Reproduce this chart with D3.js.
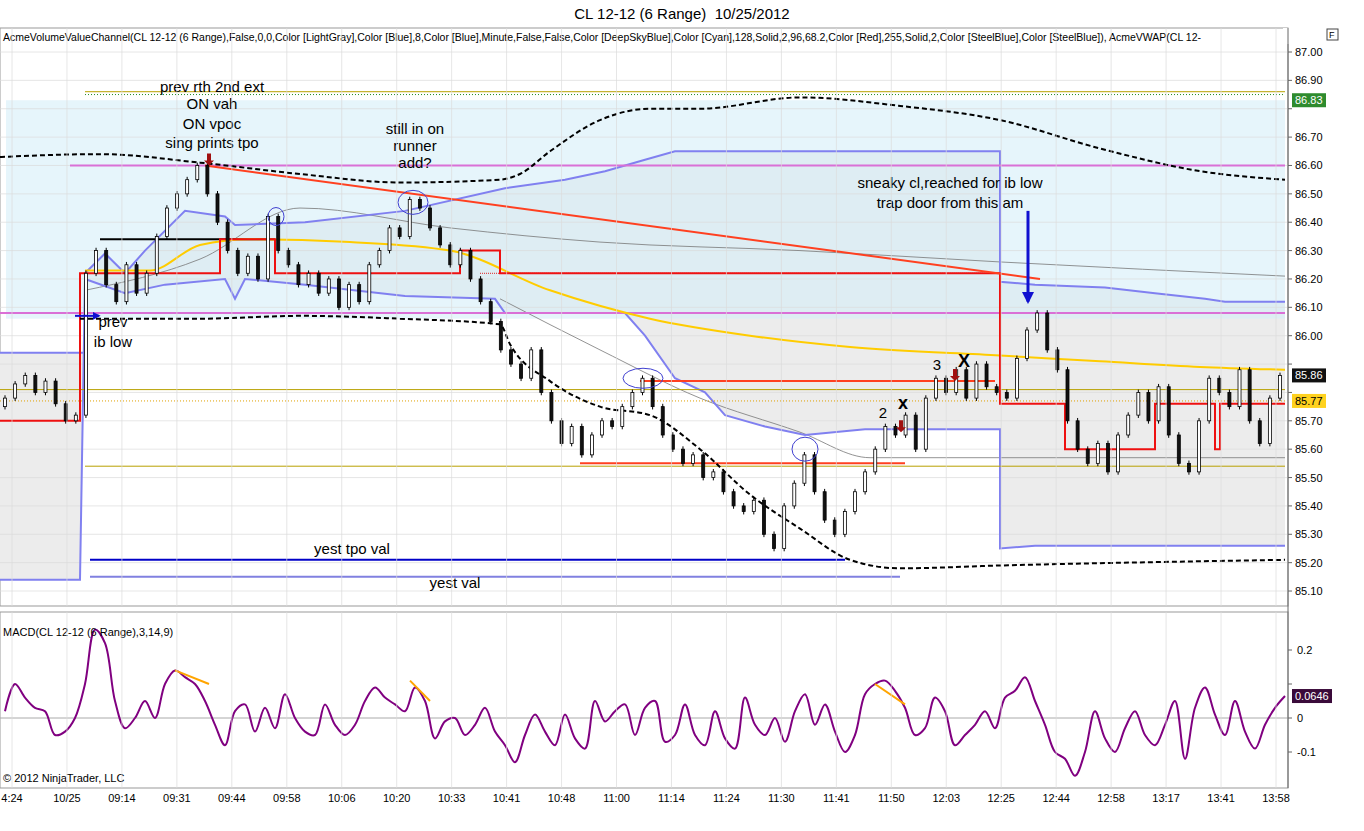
<!DOCTYPE html>
<html><head><meta charset="utf-8">
<script src="https://cdn.jsdelivr.net/npm/d3@7"></script>
<style>body{margin:0;background:#fff;font-family:Arial,"Liberation Sans",sans-serif}</style>
</head><body><div id="chart"></div>
<script>
// closes of the range bars, one per slot (slot = 10 px)
var closes = [85.78,85.83,85.86,85.80,85.84,85.76,85.70,85.72,
  86.22,86.30,86.18,86.12,86.25,86.15,86.22,
  86.35,86.45,86.50,86.55,86.60,
  86.50,86.40,86.30,86.22,86.28,86.20,
  86.42,86.30,
  86.25,86.18,86.22,86.15,86.20,86.10,86.18,86.12,
  86.25,86.30,86.38,86.35,86.48,86.45,
  86.38,86.32,86.25,86.30,86.20,
  86.12,86.05,85.95,85.90,85.85,85.95,85.80,
  85.70,85.62,85.68,85.58,
  85.65,85.70,85.68,85.75,85.80,85.85,
  85.75,85.65,85.60,85.55,85.58,85.50,
  85.52,85.45,85.40,85.38,85.42,85.30,85.25,
  85.40,85.48,85.58,85.45,85.35,85.30,85.38,
  85.45,85.52,85.60,85.68,85.65,85.72,85.60,
  85.78,85.85,85.80,85.88,85.78,85.90,85.82,85.80,
  85.78,85.92,86.02,86.08,85.95,85.88,85.70,
  85.60,85.55,85.62,85.52,85.65,85.72,85.80,85.70,85.82,
  85.65,85.55,85.52,85.70,85.85,85.80,85.75,85.88,
  85.70,85.62,85.78,85.86];
var macd = [0.02,0.1,0.06,0.03,0.02,-0.05,-0.04,0.0,0.1,0.26,0.22,0.05,-0.03,0.0,0.05,0.0,0.1,0.14,0.12,0.1,
  0.05,-0.02,-0.08,0.02,0.04,-0.04,0.03,-0.03,0.07,0.0,-0.04,-0.05,0.04,-0.02,-0.05,-0.02,0.05,0.09,0.06,0.04,
  0.02,0.09,0.05,-0.06,-0.01,0.0,-0.05,-0.02,0.03,-0.04,-0.08,-0.13,-0.05,0.01,-0.04,-0.08,0.01,-0.06,-0.09,0.05,
  -0.01,0.02,0.04,-0.05,0.03,0.05,-0.07,-0.05,0.04,-0.05,-0.08,0.02,-0.06,-0.09,0.06,-0.02,-0.05,0.0,-0.07,0.02,
  0.07,-0.02,0.04,-0.04,-0.1,-0.05,0.07,0.1,0.11,0.08,0.03,-0.05,-0.03,0.06,0.02,-0.08,-0.05,-0.02,0.02,-0.03,
  0.06,0.08,0.12,0.05,-0.02,-0.1,-0.12,-0.17,-0.1,0.02,-0.06,-0.1,-0.03,0.02,-0.05,-0.08,-0.02,0.05,-0.12,0.03,
  0.09,0.01,-0.05,0.05,-0.04,-0.09,-0.02,0.03,0.0646];
var timeLabels = ["4:24","10/25","09:14","09:31","09:44","09:58","10:06","10:20","10:33","10:41","10:48","11:00",
  "11:14","11:24","11:30","11:41","11:50","12:03","12:25","12:44","12:58","13:17","13:41","13:58"];
var priceTicks = d3.range(85.1, 87.001, 0.1);
var macdTicks = [0.2, 0.1, 0, -0.1];
// overlay lines as [slot, price]
var upperDash = [[-0.5,86.63],[9.5,86.64],[19.5,86.61],[29.5,86.57],[39.5,86.54],[49.5,86.55],[51.5,86.57],[54.5,86.65],[59.5,86.76],[64.5,86.80],[69.5,86.80],[79.5,86.84],[89.5,86.81],[99.5,86.76],[109.5,86.66],[119.5,86.58],[128,86.55]];
var lowerDash = [[7.5,86.06],[19.5,86.06],[29.5,86.07],[39.5,86.06],[49.5,86.04],[50.5,85.97],[54.5,85.84],[59.5,85.75],[64.5,85.72],[69.5,85.60],[74.5,85.44],[79.5,85.32],[84.5,85.21],[89.5,85.18],[99.5,85.19],[128,85.21]];
var vwap = [[8,86.23],[14.5,86.23],[19.5,86.32],[24.5,86.34],[34.5,86.33],[44.5,86.30],[54.5,86.16],[64.5,86.06],[74.5,86.00],[84.5,85.96],[99.5,85.93],[109.5,85.91],[119.5,85.89],[128,85.88]];
var grayA = [[8,86.16],[19.5,86.27],[29.5,86.45],[44.5,86.38],[59.5,86.33],[79.5,86.30],[99.5,86.26],[128,86.21]];
var grayB = [[49.5,86.13],[59.5,85.95],[69.5,85.78],[79.5,85.66],[86.5,85.57],[99.5,85.57],[128,85.57]];
var vaHigh = [[-0.5,85.94],[8,85.94],[8,86.22],[10,86.29],[12,86.22],[14,86.30],[18,86.44],[22,86.42],[23,86.39],[30,86.40],[40,86.44],[50,86.52],[56,86.55],[60,86.58],[64,86.62],[67,86.65],[99.5,86.65],[99.5,86.19],[103,86.18],[110,86.17],[115,86.15],[120,86.13],[122,86.12],[128,86.12]];
var vaLow = [[-0.5,85.14],[7.5,85.14],[8,86.20],[12,86.15],[16,86.18],[22,86.20],[23,86.13],[24,86.20],[30,86.18],[40,86.14],[49,86.13],[50,86.08],[62,86.08],[64,86.00],[67,85.85],[70,85.80],[72,85.72],[76,85.68],[80,85.65],[86,85.67],[99.5,85.67],[99.5,85.25],[103,85.26],[128,85.26]];
var pocSteps = [[-0.5,85.70],[7.5,85.70],[7.5,86.22],[21.5,86.22],[21.5,86.34],[27,86.34],[27,86.22],[45.5,86.22],[45.5,86.30],[49.5,86.30],[49.5,86.22],[99.5,86.22],[99.5,85.76],[106,85.76],[106,85.60],[115,85.60],[115,85.76],[121,85.76],[121,85.60],[121.5,85.60],[121.5,85.76],[128,85.76]];
var hLines = [
  {a:8,b:128,p:86.86,c:"#b8a000",w:1},{a:8,b:128,p:86.85,c:"#228b22",w:1,d:"1,2"},
  {a:6.5,b:128,p:86.60,c:"#da70d6",w:2},{a:-0.5,b:128,p:86.08,c:"#da70d6",w:2},
  {a:-0.5,b:128,p:85.81,c:"#b8a000",w:1},{a:-0.5,b:128,p:85.77,c:"#e0a000",w:1,d:"1,2"},
  {a:8,b:128,p:85.54,c:"#b8a000",w:1},
  {a:47.5,b:99.5,p:86.22,c:"#e02020",w:1,d:"1,1"},
  {a:63.5,b:99,p:85.84,c:"#ff4020",w:2},{a:57.5,b:90,p:85.55,c:"#ff4020",w:2},
  {a:9.5,b:27,p:86.34,c:"#000",w:2},
  {a:8.5,b:84,p:85.21,c:"#0000c8",w:2},{a:8.5,b:89.5,p:85.15,c:"#8080e0",w:2}
];
var annotations = [
  {s:20.7,p:86.86,t:"prev rth 2nd ext"},{s:20.7,p:86.80,t:"ON vah"},{s:20.7,p:86.73,t:"ON vpoc"},{s:20.7,p:86.66,t:"sing prints tpo"},
  {s:41,p:86.71,t:"still in on"},{s:41,p:86.65,t:"runner"},{s:41,p:86.59,t:"add?"},
  {s:94.5,p:86.52,t:"sneaky cl,reached for ib low"},{s:94.5,p:86.45,t:"trap door from this am"},
  {s:10.8,p:86.03,t:"prev"},{s:10.8,p:85.96,t:"ib low"},
  {s:34.7,p:85.23,t:"yest tpo val"},{s:45,p:85.11,t:"yest val"},
  {s:87.8,p:85.71,t:"2"},{s:93.2,p:85.88,t:"3"}
];
var crosses = [{s:89.8,p:85.74,t:"x"},{s:95.9,p:85.89,t:"X"}];
var ellipses = [{s:27.1,p:86.42,rx:8,ry:9},{s:40.8,p:86.47,rx:15,ry:12},{s:63.8,p:85.85,rx:20,ry:10},{s:80,p:85.60,rx:13,ry:12}];

var W = 1364, H = 831, right = 1288;
var x = d3.scaleLinear().domain([-0.5, 128]).range([0, 1285]);
var y = d3.scaleLinear().domain([85.03, 87.0]).range([(87-85.03)*283.7+52, 52]);
var ym = d3.scaleLinear().domain([-0.2, 0.2]).range([786, 650]);

var svg = d3.select("#chart").append("svg").attr("width", W).attr("height", H);
svg.append("text").attr("x", 682).attr("y", 19).attr("text-anchor", "middle").attr("font-size", 15).attr("xml:space", "preserve").text("CL 12-12 (6 Range)  10/25/2012");

var main = svg.append("g");
main.append("rect").attr("x", 0).attr("y", 28).attr("width", right).attr("height", 578).attr("fill", "#fff").attr("stroke", "#999");
var sub = svg.append("g");
sub.append("rect").attr("x", 0).attr("y", 612).attr("width", right).attr("height", 176).attr("fill", "#fff").attr("stroke", "#999");

var line = d3.line().x(function(d){return x(d[0]);}).y(function(d){return y(d[1]);});
var lineC = d3.line().x(function(d){return x(d[0]);}).y(function(d){return y(d[1]);}).curve(d3.curveMonotoneX);

// background fills
main.append("path").datum(vaHigh.concat(vaLow.slice().reverse())).attr("fill", "#ececec").attr("d", function(d){return line(d) + "Z";});
main.append("rect").attr("x", x(-0.5)+6).attr("width", x(128)-x(-0.5)-6).attr("y", y(86.83)).attr("height", y(86.06)-y(86.83)).attr("fill", "#d6eff8").attr("opacity", 0.6);

// grid
var tx = d3.scaleLinear().domain([0, timeLabels.length - 1]).range([12, 1276]);
timeLabels.forEach(function(t, i) {
  [[28, 606], [612, 788]].forEach(function(r) {
    svg.append("line").attr("x1", tx(i)).attr("x2", tx(i)).attr("y1", r[0]).attr("y2", r[1]).attr("stroke", "#dcdcdc").attr("stroke-opacity", 0.7);
  });
  svg.append("text").attr("x", tx(i)).attr("y", 802).attr("text-anchor", "middle").attr("font-size", 11).text(t);
});
priceTicks.forEach(function(p) {
  main.append("line").attr("x1", 0).attr("x2", right).attr("y1", y(p)).attr("y2", y(p)).attr("stroke", "#dcdcdc").attr("stroke-opacity", 0.7);
});

main.append("path").datum(grayA).attr("d", lineC).attr("fill", "none").attr("stroke", "#777").attr("stroke-width", 0.8);
main.append("path").datum(grayB).attr("d", lineC).attr("fill", "none").attr("stroke", "#777").attr("stroke-width", 0.8);
main.append("path").datum(vaHigh).attr("d", line).attr("fill", "none").attr("stroke", "#8080f0").attr("stroke-width", 2);
main.append("path").datum(vaLow).attr("d", line).attr("fill", "none").attr("stroke", "#8080f0").attr("stroke-width", 2);
hLines.forEach(function(h) {
  main.append("line").attr("x1", x(h.a)).attr("x2", x(h.b)).attr("y1", y(h.p)).attr("y2", y(h.p))
    .attr("stroke", h.c).attr("stroke-width", h.w).attr("stroke-dasharray", h.d || null);
});
main.append("path").datum(vwap).attr("d", lineC).attr("fill", "none").attr("stroke", "#ffcc00").attr("stroke-width", 2);
main.append("path").datum(pocSteps).attr("d", line).attr("fill", "none").attr("stroke", "#ee1010").attr("stroke-width", 2);
main.append("line").attr("x1", x(20)).attr("y1", y(86.60)).attr("x2", x(103.5)).attr("y2", y(86.20)).attr("stroke", "#ff4020").attr("stroke-width", 2);
main.append("path").datum(upperDash).attr("d", lineC).attr("fill", "none").attr("stroke", "#000").attr("stroke-width", 2).attr("stroke-dasharray", "5,3");
main.append("path").datum(lowerDash).attr("d", lineC).attr("fill", "none").attr("stroke", "#000").attr("stroke-width", 2).attr("stroke-dasharray", "5,3");

// candles
var bars = closes.map(function(c, i) {
  var o = i ? closes[i-1] : c - 0.03;
  return {i: i, o: o, c: c, h: Math.max(o, c) + 0.01, l: Math.min(o, c) - 0.01};
});
var bx = d3.scaleLinear().domain([0, closes.length - 1]).range([x(0), x(127.5)]);
var cg = main.selectAll("g.bar").data(bars).enter().append("g").attr("class", "bar");
cg.append("line").attr("x1", function(d){return bx(d.i);}).attr("x2", function(d){return bx(d.i);})
  .attr("y1", function(d){return y(d.h);}).attr("y2", function(d){return y(d.l);}).attr("stroke", "#000");
cg.append("rect").attr("x", function(d){return bx(d.i)-1.5;}).attr("width", 3)
  .attr("y", function(d){return y(Math.max(d.o, d.c));}).attr("height", function(d){return Math.max(1, Math.abs(y(d.o)-y(d.c)));})
  .attr("fill", function(d){return d.c >= d.o ? "#fff" : "#111";}).attr("stroke", "#000").attr("stroke-width", 0.8);

// ellipses, arrows, annotations
ellipses.forEach(function(e) {
  main.append("ellipse").attr("cx", x(e.s)).attr("cy", y(e.p)).attr("rx", e.rx).attr("ry", e.ry).attr("fill", "none").attr("stroke", "#4040d0");
});
svg.append("defs").append("marker").attr("id", "ah").attr("viewBox", "0 0 10 10").attr("refX", 8).attr("refY", 5)
  .attr("markerWidth", 4).attr("markerHeight", 4).attr("orient", "auto")
  .append("path").attr("d", "M0,0L10,5L0,10z").attr("fill", "#1010d0");
main.append("line").attr("x1", x(102.3)).attr("x2", x(102.3)).attr("y1", y(86.44)).attr("y2", y(86.12))
  .attr("stroke", "#1010d0").attr("stroke-width", 3).attr("marker-end", "url(#ah)");
main.append("line").attr("x1", x(7)).attr("x2", x(9.4)).attr("y1", y(86.07)).attr("y2", y(86.07))
  .attr("stroke", "#1010d0").attr("stroke-width", 2).attr("marker-end", "url(#ah)");
[[20.4,86.60],[89.6,85.66],[95,85.84]].forEach(function(a) {
  main.append("path").attr("transform", "translate(" + x(a[0]) + "," + y(a[1]) + ")")
    .attr("d", "M-2,-12L2,-12L2,-5L5,-5L0,0L-5,-5L-2,-5z").attr("fill", "#a01010");
});
annotations.forEach(function(a) {
  main.append("text").attr("x", x(a.s)).attr("y", y(a.p)).attr("text-anchor", "middle").attr("font-size", 15).text(a.t);
});
crosses.forEach(function(a) {
  main.append("text").attr("x", x(a.s)).attr("y", y(a.p)).attr("text-anchor", "middle").attr("font-size", 18).attr("font-weight", "bold").text(a.t);
});
main.append("text").attr("x", 3).attr("y", 41).attr("font-size", 10.5)
  .text("AcmeVolumeValueChannel(CL 12-12 (6 Range),False,0,0,Color [LightGray],Color [Blue],8,Color [Blue],Minute,False,False,Color [DeepSkyBlue],Color [Cyan],128,Solid,2,96,68.2,Color [Red],255,Solid,2,Color [SteelBlue],Color [SteelBlue]), AcmeVWAP(CL 12-");
main.append("rect").attr("x", 1283).attr("y", 28).attr("width", 81).attr("height", 16).attr("fill", "#fff");

// price axis
var tags = [{p:86.83,bg:"#2e8b2e",fg:"#fff"},{p:closes[closes.length-1],bg:"#111",fg:"#fff"},{p:85.77,bg:"#ffd21f",fg:"#000"}];
svg.append("line").attr("x1", right).attr("x2", right).attr("y1", 28).attr("y2", 788).attr("stroke", "#666");
priceTicks.forEach(function(p) {
  svg.append("line").attr("x1", right).attr("x2", right+4).attr("y1", y(p)).attr("y2", y(p)).attr("stroke", "#666");
  var hidden = tags.some(function(t){ return Math.abs(y(t.p) - y(p)) < 12; });
  if (!hidden) svg.append("text").attr("x", 1295).attr("y", y(p)+4).attr("font-size", 11).text(p.toFixed(2));
});
tags.forEach(function(t) {
  svg.append("rect").attr("x", 1292).attr("y", y(t.p)-7).attr("width", 34).attr("height", 14).attr("fill", t.bg);
  svg.append("text").attr("x", 1295).attr("y", y(t.p)+4).attr("font-size", 11).attr("fill", t.fg).text(t.p.toFixed(2));
});
svg.append("rect").attr("x", 1327).attr("y", 29).attr("width", 11).attr("height", 11).attr("fill", "#fff").attr("stroke", "#444");
svg.append("text").attr("x", 1329).attr("y", 38).attr("font-size", 9).text("F");

// MACD panel
sub.append("line").attr("x1", 0).attr("x2", right).attr("y1", ym(0)).attr("y2", ym(0)).attr("stroke", "#aaa");
var last = macd[macd.length-1];
macdTicks.forEach(function(v) {
  sub.append("line").attr("x1", right).attr("x2", right+4).attr("y1", ym(v)).attr("y2", ym(v)).attr("stroke", "#666");
  if (Math.abs(ym(v) - ym(last)) >= 15)
    sub.append("text").attr("x", 1297).attr("y", ym(v)+4).attr("font-size", 11).text(v === 0 ? "0" : v.toFixed(1));
});
var mx = d3.scaleLinear().domain([0, macd.length - 1]).range([x(0), x(128)]);
sub.append("path").datum(macd).attr("fill", "none").attr("stroke", "#800080").attr("stroke-width", 2)
  .attr("d", d3.line().x(function(d, i){return mx(i);}).y(function(d){return ym(d);}).curve(d3.curveCatmullRom));
[[17,0.14,20.4,0.1],[40.5,0.11,42.5,0.05],[87,0.1,90,0.04]].forEach(function(s) {
  sub.append("line").attr("x1", x(s[0])).attr("y1", ym(s[1])).attr("x2", x(s[2])).attr("y2", ym(s[3])).attr("stroke", "#ffa500").attr("stroke-width", 2);
});
sub.append("rect").attr("x", 1292).attr("y", ym(last)-7).attr("width", 40).attr("height", 14).attr("fill", "#3a0a3a");
sub.append("text").attr("x", 1295).attr("y", ym(last)+4).attr("font-size", 11).attr("fill", "#fff").text(last.toFixed(4));
sub.append("text").attr("x", 3).attr("y", 636).attr("font-size", 11).text("MACD(CL 12-12 (6 Range),3,14,9)");
sub.append("text").attr("x", 3).attr("y", 782).attr("font-size", 11).text("© 2012 NinjaTrader, LLC");
</script></body></html>
